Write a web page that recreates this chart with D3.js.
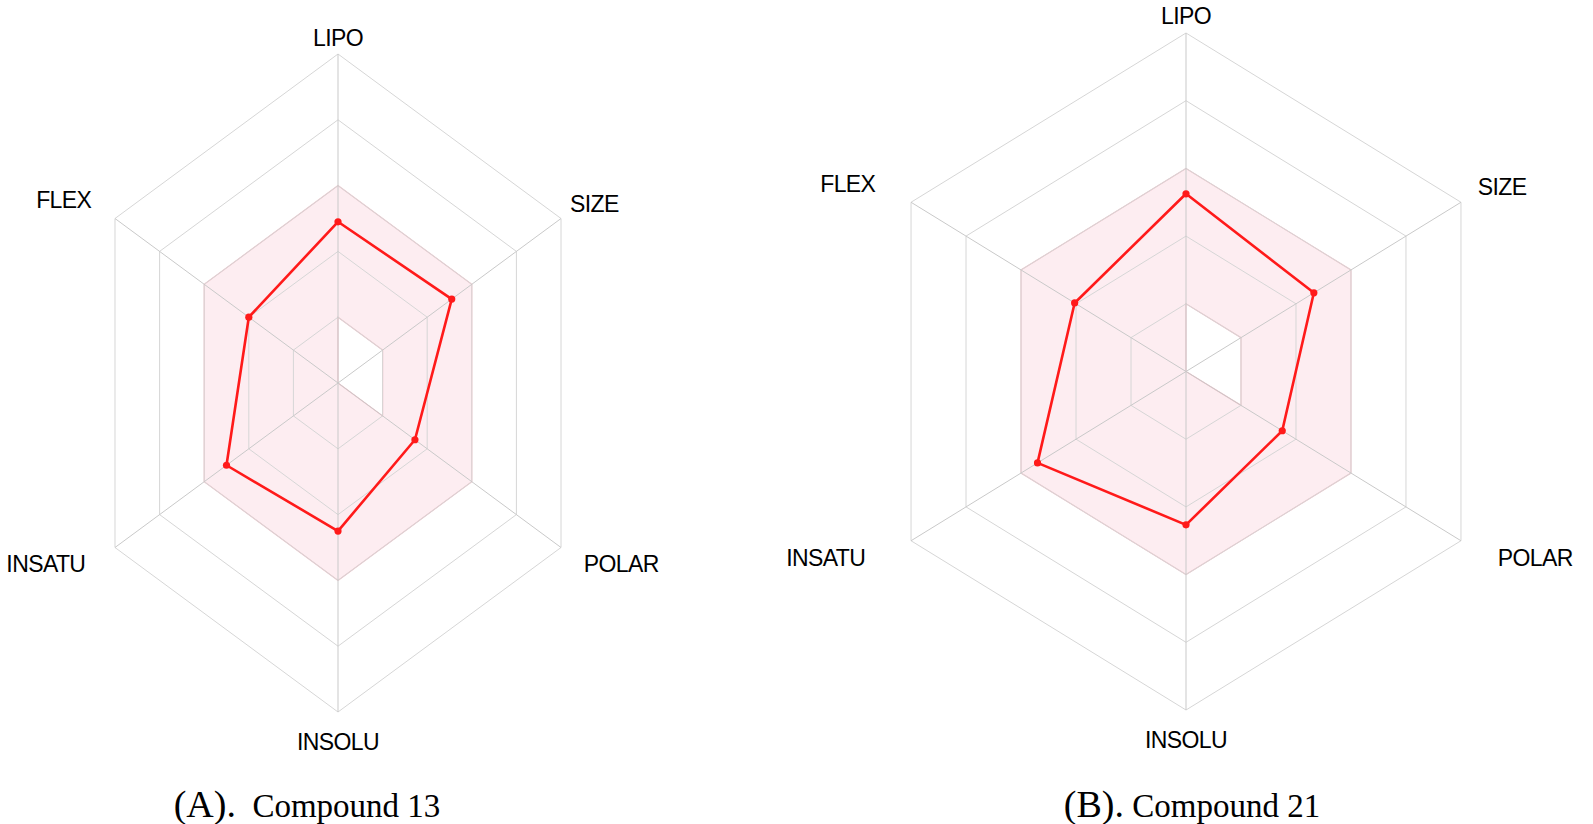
<!DOCTYPE html>
<html>
<head>
<meta charset="utf-8">
<script src="https://cdn.jsdelivr.net/npm/d3@7"></script>
<style>
  html, body { margin: 0; padding: 0; background: #fff; }
  svg { display: block; }
</style>
</head>
<body>
<div id="chart"></div>
<script>
// bioavailability radar, two compounds side by side
const axes = ["LIPO", "SIZE", "POLAR", "INSOLU", "INSATU", "FLEX"];

// values, 0..1 along each spoke
const compound13 = [0.49, 0.51, 0.345, 0.45, 0.50, 0.40];
const compound21 = [0.525, 0.465, 0.35, 0.453, 0.54, 0.405];

// optimal (pink) band: outer and inner limits per axis
const bandOuter = [0.6, 0.6, 0.6, 0.6, 0.6, 0.6];
const bandInner = [0.2, 0.2, 0.2, 0, 0, 0];

const rings = [0.2, 0.4, 0.6, 0.8, 1.0];

const panels = [
  { letter: "(A).", name: "Compound 13", values: compound13 },
  { letter: "(B).", name: "Compound 21", values: compound21 }
];

const width = 1593, height = 824;

// each radar in the source image is stretched differently
const frames = [
  { cx: 338, cy: 383, rx: 257.5, ry: 329, capX: 307 },
  { cx: 1186, cy: 371.5, rx: 317.5, ry: 338.5, capX: 1192 }
];

// where the axis names sit, in units of the radius
const labelX = [0, 1.15, 1.27, 0, 1.31, 1.23];
const labelY = [1.05, 1.09, 1.10, 1.09, 1.10, 1.11];

const svg = d3.select("#chart")
  .append("svg")
  .attr("width", width)
  .attr("height", height);

svg.append("rect").attr("width", width).attr("height", height).attr("fill", "#fff");

const angle = d3.scaleLinear().domain([0, axes.length]).range([0, 2 * Math.PI]);

panels.forEach((p, k) => {
  const f = frames[k];
  const sx = d3.scaleLinear().domain([0, 1]).range([0, f.rx]);
  const sy = d3.scaleLinear().domain([0, 1]).range([0, f.ry]);
  const pt = (v, i) => [
    f.cx + sx(v) * Math.sin(angle(i)),
    f.cy - sy(v) * Math.cos(angle(i))
  ];
  const line = d3.line();

  const g = svg.append("g");

  // pink band (outer hexagon minus inner shape)
  const outer = bandOuter.map(pt);
  const inner = bandInner.map(pt);
  g.append("path")
    .attr("d", line(outer) + "Z" + line(inner.slice().reverse()) + "Z")
    .attr("fill", "#fdedf1")
    .attr("fill-rule", "evenodd")
    .attr("stroke", "#f6c3cb")
    .attr("stroke-width", 1.2);

  // rings
  g.selectAll(".ring")
    .data(rings)
    .enter()
    .append("path")
    .attr("d", r => line(axes.map((a, i) => pt(r, i))) + "Z")
    .attr("fill", "none")
    .attr("stroke", "#d6d6d6")
    .attr("stroke-width", 1);

  // spokes
  g.selectAll(".spoke")
    .data(axes)
    .enter()
    .append("line")
    .attr("x1", f.cx)
    .attr("y1", f.cy)
    .attr("x2", (a, i) => pt(1, i)[0])
    .attr("y2", (a, i) => pt(1, i)[1])
    .attr("stroke", "#c9c9c9")
    .attr("stroke-width", 1);

  // compound polygon
  const pts = p.values.map(pt);
  g.append("path")
    .attr("d", line(pts) + "Z")
    .attr("fill", "none")
    .attr("stroke", "#ff1a1a")
    .attr("stroke-width", 2.6)
    .attr("stroke-linejoin", "round");

  g.selectAll(".dot")
    .data(pts)
    .enter()
    .append("circle")
    .attr("cx", d => d[0])
    .attr("cy", d => d[1])
    .attr("r", 3.6)
    .attr("fill", "#ff1a1a");

  // axis names
  g.selectAll(".lab")
    .data(axes)
    .enter()
    .append("text")
    .attr("x", (a, i) => f.cx + sx(labelX[i]) * Math.sin(angle(i)))
    .attr("y", (a, i) => f.cy - sy(labelY[i]) * Math.cos(angle(i)))
    .attr("text-anchor", "middle")
    .attr("dominant-baseline", "central")
    .attr("font-family", "'Liberation Sans', Arial, sans-serif")
    .attr("font-size", 23)
    .attr("letter-spacing", -0.6)
    .attr("fill", "#000")
    .text(a => a);

  // caption
  const cap = svg.append("text")
    .attr("x", f.capX)
    .attr("y", 817)
    .attr("text-anchor", "middle")
    .attr("font-family", "'Liberation Serif', 'Times New Roman', serif")
    .attr("fill", "#000")
    .attr("xml:space", "preserve");
  cap.append("tspan").attr("font-size", 38).text(p.letter);
  cap.append("tspan").attr("font-size", 33).text((k === 0 ? "  " : " ") + p.name);
});
</script>
</body>
</html>
